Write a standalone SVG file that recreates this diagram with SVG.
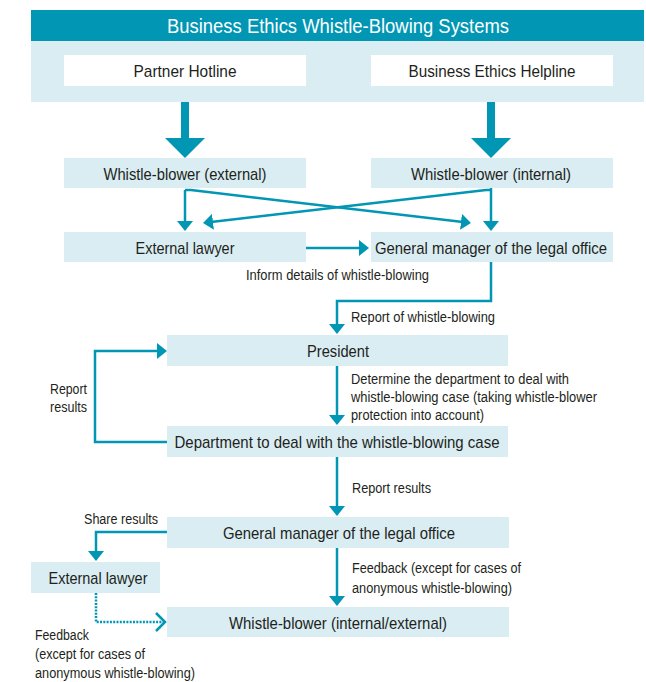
<svg xmlns="http://www.w3.org/2000/svg" width="646" height="682" viewBox="0 0 646 682">
<defs>
<marker id="ah" markerUnits="userSpaceOnUse" markerWidth="12" markerHeight="18" refX="2" refY="8" orient="auto">
<path d="M0,0 L10,8 L0,16 Z" fill="#0096b4"/>
</marker>
<marker id="chev" markerUnits="userSpaceOnUse" markerWidth="14" markerHeight="22" refX="10" refY="10" orient="auto">
<path d="M1,1 L10,10 L1,19" fill="none" stroke="#0096b4" stroke-width="2.5"/>
</marker>
</defs>
<style>
.box{fill:#d9edf3}
.wbox{fill:#ffffff}
.nt{font-family:"Liberation Sans",Arial,sans-serif;font-size:17px;fill:#231f20;text-anchor:middle}
.lt{font-family:"Liberation Sans",Arial,sans-serif;font-size:14px;fill:#231f20}
.ttl{font-family:"Liberation Sans",Arial,sans-serif;font-size:20px;fill:#ffffff;text-anchor:middle}
.ln{fill:none;stroke:#0096b4;stroke-width:2.5}
.big{fill:#0096b4}
</style>
<g id="header">
<rect x="31" y="10" width="613" height="31" fill="#0096b4"/>
<rect x="31" y="41" width="613" height="61" class="box"/>
<text class="ttl" x="338" y="33" textLength="342" lengthAdjust="spacingAndGlyphs">Business Ethics Whistle-Blowing Systems</text>
</g>
<g id="partner-hotline">
<rect x="64" y="55" width="242" height="31" class="wbox"/>
<text class="nt" x="185" y="77" textLength="103" lengthAdjust="spacingAndGlyphs">Partner Hotline</text>
</g>
<g id="ethics-helpline">
<rect x="371" y="55" width="242" height="31" class="wbox"/>
<text class="nt" x="492" y="77" textLength="167" lengthAdjust="spacingAndGlyphs">Business Ethics Helpline</text>
</g>
<g id="wb-external">
<rect x="64" y="158" width="242" height="30" class="box"/>
<text class="nt" x="185" y="179.5" textLength="163" lengthAdjust="spacingAndGlyphs">Whistle-blower (external)</text>
</g>
<g id="wb-internal">
<rect x="371" y="158" width="242" height="30" class="box"/>
<text class="nt" x="491" y="179.5" textLength="160" lengthAdjust="spacingAndGlyphs">Whistle-blower (internal)</text>
</g>
<g id="external-lawyer-1">
<rect x="64" y="232" width="242" height="30" class="box"/>
<text class="nt" x="185" y="253.5" textLength="99" lengthAdjust="spacingAndGlyphs">External lawyer</text>
</g>
<g id="gm-legal-1">
<rect x="371" y="232" width="242" height="30" class="box"/>
<text class="nt" x="491" y="253.5" textLength="232" lengthAdjust="spacingAndGlyphs">General manager of the legal office</text>
</g>
<g id="president">
<rect x="167" y="335" width="341" height="31" class="box"/>
<text class="nt" x="338" y="357" textLength="62" lengthAdjust="spacingAndGlyphs">President</text>
</g>
<g id="department">
<rect x="167" y="426" width="341" height="31" class="box"/>
<text class="nt" x="337" y="448" textLength="325" lengthAdjust="spacingAndGlyphs">Department to deal with the whistle-blowing case</text>
</g>
<g id="gm-legal-2">
<rect x="167" y="517" width="342" height="31" class="box"/>
<text class="nt" x="339" y="539" textLength="232" lengthAdjust="spacingAndGlyphs">General manager of the legal office</text>
</g>
<g id="external-lawyer-2">
<rect x="31" y="562" width="129" height="31" class="box"/>
<text class="nt" x="98" y="584" textLength="99" lengthAdjust="spacingAndGlyphs">External lawyer</text>
</g>
<g id="wb-all">
<rect x="167" y="607" width="342" height="30" class="box"/>
<text class="nt" x="338" y="628.5" textLength="218" lengthAdjust="spacingAndGlyphs">Whistle-blower (internal/external)</text>
</g>
<g id="connectors">
<path class="big" d="M181,102 H189 V138 H205 L185,158 L165,138 H181 Z"/>
<path class="big" d="M487,102 H495 V138 H511 L491,158 L471,138 H487 Z"/>
<path class="ln" d="M185,190 V223" marker-end="url(#ah)"/>
<path class="ln" d="M185,190 H191 L463,222" marker-end="url(#ah)"/>
<path class="ln" d="M491,188 V223" marker-end="url(#ah)"/>
<path class="ln" d="M491,190 H486 L211,222" marker-end="url(#ah)"/>
<path class="ln" d="M306,248 H361" marker-end="url(#ah)"/>
<path class="ln" d="M491,262 V301 H337 V326" marker-end="url(#ah)"/>
<path class="ln" d="M337,366 V417" marker-end="url(#ah)"/>
<path class="ln" d="M167,442 H95 V351 H159" marker-end="url(#ah)"/>
<path class="ln" d="M337,457 V508" marker-end="url(#ah)"/>
<path class="ln" d="M167,532 H96 V553" marker-end="url(#ah)"/>
<path class="ln" d="M337,548 V598" marker-end="url(#ah)"/>
<path class="ln" d="M96,593 V622 H165" stroke-dasharray="2,1.3" marker-end="url(#chev)"/>
</g>
<g id="labels">
<text class="lt" x="246" y="280" textLength="183" lengthAdjust="spacingAndGlyphs">Inform details of whistle-blowing</text>
<text class="lt" x="351" y="322" textLength="144" lengthAdjust="spacingAndGlyphs">Report of whistle-blowing</text>
<text class="lt" x="351" y="384" textLength="218" lengthAdjust="spacingAndGlyphs">Determine the department to deal with</text>
<text class="lt" x="351" y="402" textLength="246" lengthAdjust="spacingAndGlyphs">whistle-blowing case (taking whistle-blower</text>
<text class="lt" x="351" y="420" textLength="133" lengthAdjust="spacingAndGlyphs">protection into account)</text>
<text class="lt" x="50" y="394" textLength="37" lengthAdjust="spacingAndGlyphs">Report</text>
<text class="lt" x="50" y="412" textLength="37" lengthAdjust="spacingAndGlyphs">results</text>
<text class="lt" x="352" y="493" textLength="79" lengthAdjust="spacingAndGlyphs">Report results</text>
<text class="lt" x="84" y="524" textLength="74" lengthAdjust="spacingAndGlyphs">Share results</text>
<text class="lt" x="352" y="573" textLength="169" lengthAdjust="spacingAndGlyphs">Feedback (except for cases of</text>
<text class="lt" x="352" y="593" textLength="160" lengthAdjust="spacingAndGlyphs">anonymous whistle-blowing)</text>
<text class="lt" x="35" y="640" textLength="54" lengthAdjust="spacingAndGlyphs">Feedback</text>
<text class="lt" x="35" y="659" textLength="110" lengthAdjust="spacingAndGlyphs">(except for cases of</text>
<text class="lt" x="35" y="678" textLength="160" lengthAdjust="spacingAndGlyphs">anonymous whistle-blowing)</text>
</g>
</svg>
